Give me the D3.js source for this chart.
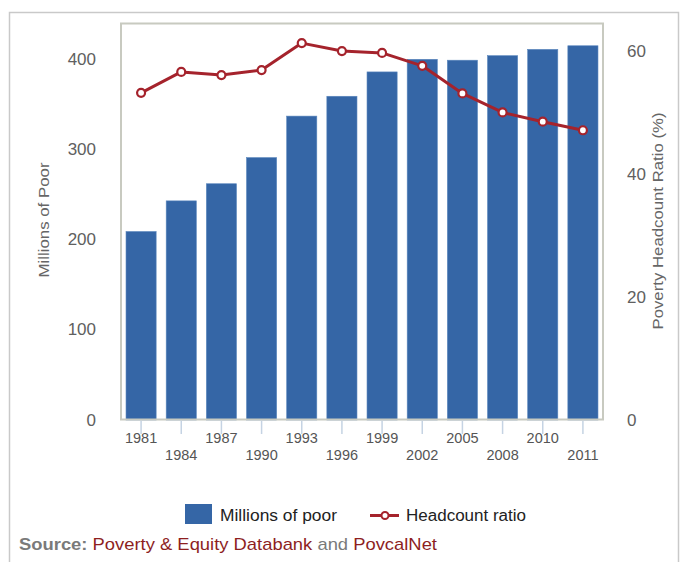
<!DOCTYPE html>
<html>
<head>
<meta charset="utf-8">
<script src="https://cdn.jsdelivr.net/npm/d3@7"></script>
<style>
  html, body { margin: 0; padding: 0; background: #fff; }
  svg { display: block; font-family: "Liberation Sans", Arial, Helvetica, sans-serif; }
</style>
</head>
<body>
<svg id="chart" width="680" height="562"></svg>
<script>
const years = ["1981","1984","1987","1990","1993","1996","1999","2002","2005","2008","2010","2011"];
const millionsOfPoor = [209, 243, 262, 291, 337, 359, 386, 400, 399, 404, 411, 415];
const headcountRatio = [53.3, 56.7, 56.2, 57.0, 61.4, 60.1, 59.8, 57.7, 53.2, 50.1, 48.6, 47.2];
const leftTicks = [0, 100, 200, 300, 400];
const rightTicks = [0, 20, 40, 60];

const svg = d3.select("#chart");
const plot = { left: 121, right: 603, top: 23.5, bottom: 419.5 };

// outer frame
svg.append("rect")
  .attr("x", 9.5).attr("y", 12.5).attr("width", 669).attr("height", 620)
  .attr("fill", "none").attr("stroke", "#c9c9c9").attr("stroke-width", 1.5);

const x = d3.scaleBand().domain(years).range([plot.left, plot.right])
  .paddingInner(0.25).paddingOuter(0.125);
const yL = d3.scaleLinear().domain([0, 400]).range([420, 59.3]);
const yR = d3.scaleLinear().domain([0, 60]).range([420, 51.7]);

const barColor = "#3566a6";
const lineColor = "#a5232c";

// bars
svg.append("g").selectAll("rect").data(years).join("rect")
  .attr("x", d => x(d))
  .attr("width", x.bandwidth())
  .attr("y", (d, i) => yL(millionsOfPoor[i]))
  .attr("height", (d, i) => yL(0) - yL(millionsOfPoor[i]))
  .attr("fill", barColor)
  .attr("stroke", "#5a86bd").attr("stroke-width", 0.6);

// plot frame
svg.append("rect")
  .attr("x", plot.left).attr("y", plot.top)
  .attr("width", plot.right - plot.left).attr("height", plot.bottom - plot.top)
  .attr("fill", "none").attr("stroke", "#c8cac0").attr("stroke-width", 2);

// x ticks
const xAxis = svg.append("g");
xAxis.selectAll("line").data(years).join("line")
  .attr("x1", d => x(d) + x.bandwidth() / 2).attr("x2", d => x(d) + x.bandwidth() / 2)
  .attr("y1", 421).attr("y2", 434)
  .attr("stroke", "#c5d3e3").attr("stroke-width", 1.5);
xAxis.selectAll("text").data(years).join("text")
  .attr("x", d => x(d) + x.bandwidth() / 2)
  .attr("y", (d, i) => i % 2 === 0 ? 443 : 460)
  .attr("text-anchor", "middle")
  .attr("font-size", 14.5).attr("fill", "#555")
  .text(d => d);

// left axis labels
svg.append("g").selectAll("text").data(leftTicks).join("text")
  .attr("x", 96).attr("y", d => yL(d) + 5.5)
  .attr("text-anchor", "end").attr("font-size", 17).attr("fill", "#606060")
  .text(d => d);

// right axis labels
svg.append("g").selectAll("text").data(rightTicks).join("text")
  .attr("x", 627).attr("y", d => yR(d) + 5.5)
  .attr("text-anchor", "start").attr("font-size", 17).attr("fill", "#606060")
  .text(d => d);

// axis titles
svg.append("text")
  .attr("transform", "translate(49,220) rotate(-90)")
  .attr("text-anchor", "middle").attr("font-size", 15.5).attr("fill", "#666")
  .attr("textLength", 115).attr("lengthAdjust", "spacingAndGlyphs")
  .text("Millions of Poor");
svg.append("text")
  .attr("transform", "translate(663,221) rotate(-90)")
  .attr("text-anchor", "middle").attr("font-size", 15.5).attr("fill", "#666")
  .attr("textLength", 217).attr("lengthAdjust", "spacingAndGlyphs")
  .text("Poverty Headcount Ratio (%)");

// line
const cx = (d, i) => x(years[i]) + x.bandwidth() / 2;
const line = d3.line().x((d, i) => cx(d, i)).y(d => yR(d));
svg.append("path").datum(headcountRatio)
  .attr("d", line).attr("fill", "none")
  .attr("stroke", lineColor).attr("stroke-width", 3).attr("stroke-linejoin", "round");
svg.append("g").selectAll("circle").data(headcountRatio).join("circle")
  .attr("cx", (d, i) => cx(d, i)).attr("cy", d => yR(d)).attr("r", 4)
  .attr("fill", "#fff").attr("stroke", lineColor).attr("stroke-width", 2.2);

// legend
const lg = svg.append("g");
lg.append("rect").attr("x", 185).attr("y", 504).attr("width", 27).attr("height", 20).attr("fill", barColor);
lg.append("text").attr("x", 220).attr("y", 521).attr("font-size", 16).attr("fill", "#222")
  .attr("textLength", 117).attr("lengthAdjust", "spacingAndGlyphs").text("Millions of poor");
lg.append("line").attr("x1", 370).attr("x2", 399).attr("y1", 515.5).attr("y2", 515.5)
  .attr("stroke", lineColor).attr("stroke-width", 3);
lg.append("circle").attr("cx", 385).attr("cy", 515.5).attr("r", 3.5)
  .attr("fill", "#fff").attr("stroke", lineColor).attr("stroke-width", 2);
lg.append("text").attr("x", 406).attr("y", 521).attr("font-size", 16).attr("fill", "#222")
  .attr("textLength", 120).attr("lengthAdjust", "spacingAndGlyphs").text("Headcount ratio");

// source
const src = svg.append("text").attr("x", 19).attr("y", 550).attr("font-size", 17)
  .attr("textLength", 418).attr("lengthAdjust", "spacingAndGlyphs");
src.append("tspan").attr("fill", "#7a7a7a").attr("font-weight", "bold").text("Source: ");
src.append("tspan").attr("fill", "#8e1f1f").text("Poverty & Equity Databank");
src.append("tspan").attr("fill", "#7a7a7a").text(" and ");
src.append("tspan").attr("fill", "#8e1f1f").text("PovcalNet");
</script>
</body>
</html>
